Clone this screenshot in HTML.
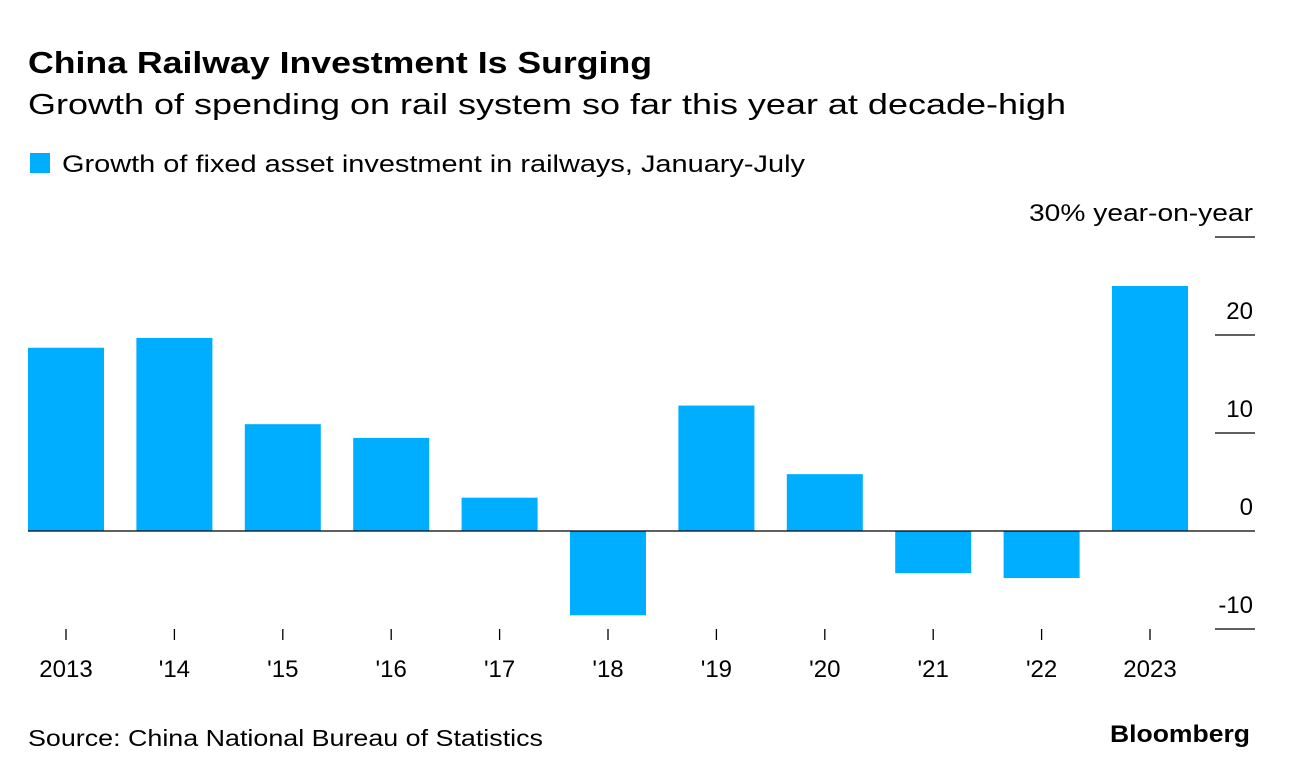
<!DOCTYPE html>
<html><head><meta charset="utf-8"><style>
body{margin:0;background:#fff;font-family:"Liberation Sans",sans-serif;}
</style></head><body>
<svg width="1289" height="778" xmlns="http://www.w3.org/2000/svg" font-family="Liberation Sans, sans-serif">
<text x="28" y="73" font-size="31" font-weight="bold" fill="#000" textLength="624" lengthAdjust="spacingAndGlyphs">China Railway Investment Is Surging</text>
<text x="28" y="114" font-size="29" fill="#000" textLength="1038" lengthAdjust="spacingAndGlyphs">Growth of spending on rail system so far this year at decade-high</text>
<rect x="30" y="153" width="20" height="20" fill="#00aeff"/>
<text x="62" y="172" font-size="24" fill="#000" textLength="743" lengthAdjust="spacingAndGlyphs">Growth of fixed asset investment in railways, January-July</text>
<g id="axis"></g>
<g id="bars"></g>
<text x="28" y="746" font-size="23" fill="#000" textLength="515" lengthAdjust="spacingAndGlyphs">Source: China National Bureau of Statistics</text>
<text x="1250" y="742" font-size="24" font-weight="bold" text-anchor="end" fill="#000" textLength="140" lengthAdjust="spacingAndGlyphs">Bloomberg</text>
</svg>
<script>
const categories=["2013","'14","'15","'16","'17","'18","'19","'20","'21","'22","2023"];
const values=[18.7,19.7,10.9,9.5,3.4,-8.6,12.8,5.8,-4.3,-4.8,25.0];
const ticks=[-10,0,10,20,30];
const tickLabels=["-10","0","10","20","30% year-on-year"];
const NS="http://www.w3.org/2000/svg";
const y=v=>531-v*9.8;
const x=i=>66+i*108.4;
const bw=76;
const bars=document.getElementById('bars'),axis=document.getElementById('axis');
function mk(tag,attrs,parent,text){const e=document.createElementNS(NS,tag);for(const k in attrs)e.setAttribute(k,attrs[k]);if(text!=null)e.textContent=text;parent.appendChild(e);return e;}
ticks.forEach((t,i)=>{
 if(t!==0){const l=mk('line',{x1:1215,x2:1255,y1:y(t),y2:y(t),stroke:'#000','stroke-width':1.3},axis);
 
 }
 const a={x:1253,y:y(t)-16,'font-size':24,'text-anchor':'end',fill:'#000'};
 if(t===30){a.textLength=224;a.lengthAdjust='spacingAndGlyphs';}
 const tx=mk('text',a,axis,tickLabels[i]);
 
 
});
categories.forEach((c,i)=>{
 const v=values[i];
 const r=mk('rect',{x:x(i)-bw/2,y:Math.min(y(v),y(0)),width:bw,height:Math.abs(y(v)-y(0)),fill:'#00aeff'},bars);
 
 
 const tk=mk('line',{x1:x(i),x2:x(i),y1:629,y2:640,stroke:'#000','stroke-width':1.3},axis);
 
 
 const lb=mk('text',{x:x(i),y:677,'font-size':24,'text-anchor':'middle',fill:'#000'},axis,c);
 
 
});
const z=mk('line',{x1:28,x2:1255,y1:y(0),y2:y(0),stroke:'#000','stroke-width':1.3},bars);


</script>
</body></html>
